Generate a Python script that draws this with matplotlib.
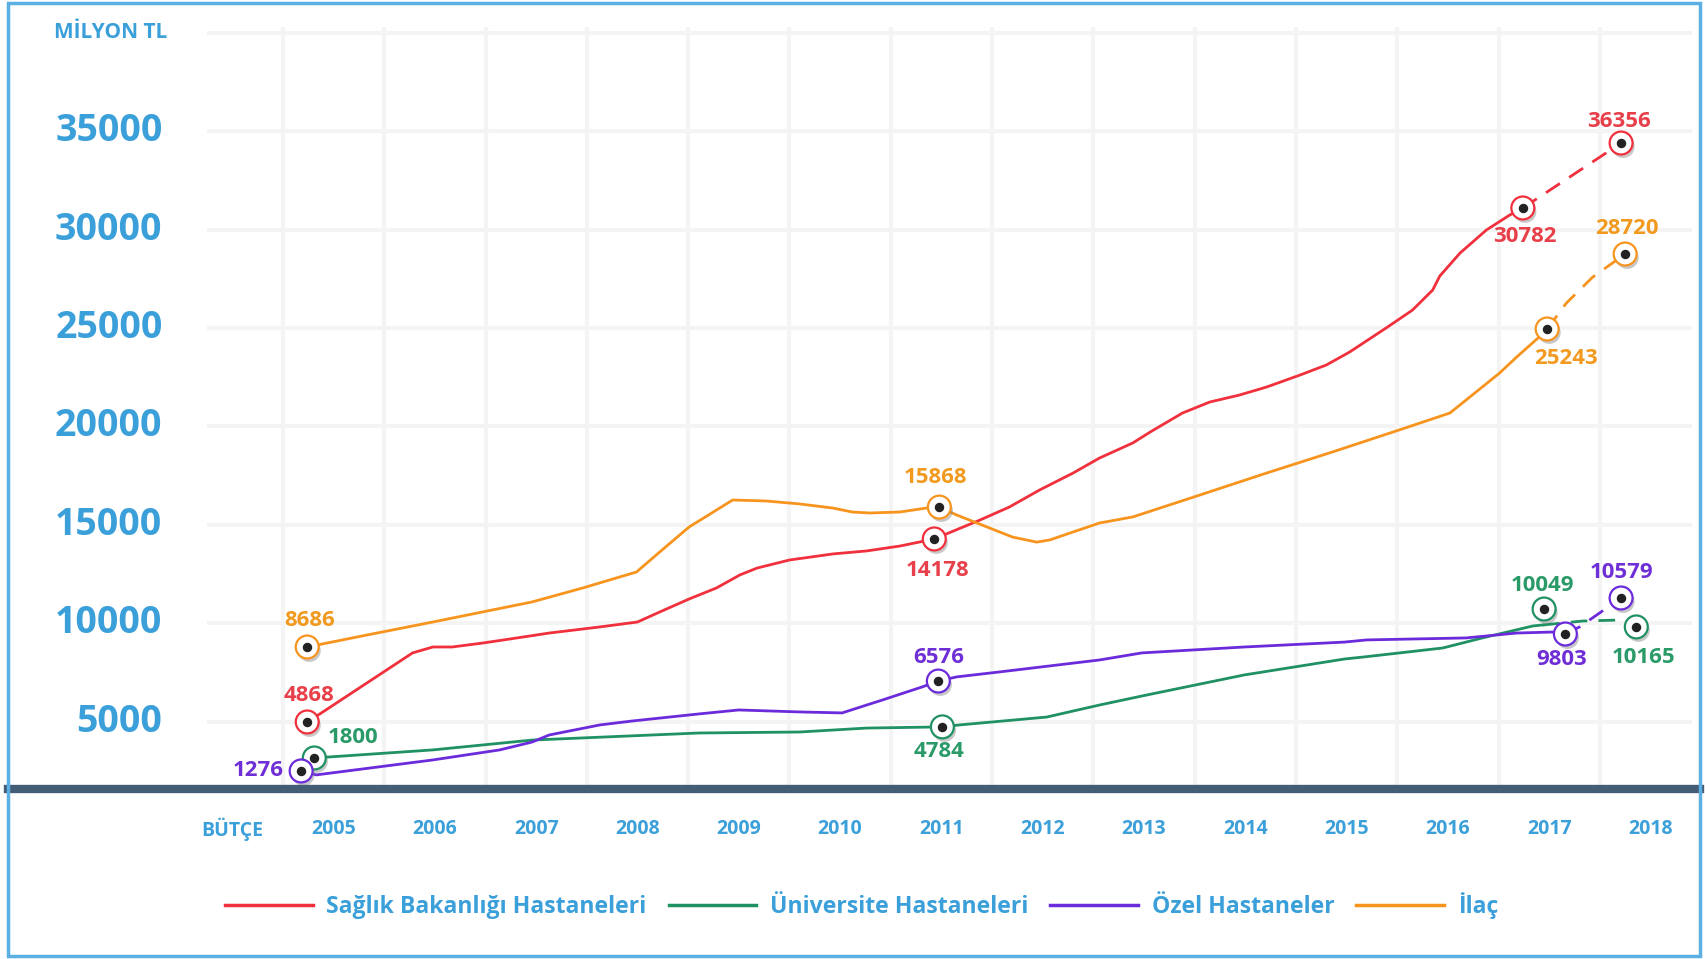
import matplotlib.pyplot as plt
import matplotlib.patheffects as pe
from matplotlib.lines import Line2D
from matplotlib.patches import Rectangle

# --- data ---
red_x = [2004.74, 2004.88, 2005.42, 2005.78, 2005.98, 2006.17, 2006.47, 2006.81, 2007.13, 2007.63,
         2008.00, 2008.22, 2008.51, 2008.78, 2009.01, 2009.18, 2009.50, 2009.93, 2010.26, 2010.59,
         2010.93, 2011.38, 2011.67, 2011.97, 2012.30, 2012.56, 2012.89, 2013.06, 2013.38, 2013.65,
         2013.94, 2014.21, 2014.54, 2014.80, 2015.03, 2015.39, 2015.65, 2015.85, 2015.92, 2016.12,
         2016.38, 2016.61, 2016.74]
red_y = [4980, 5440, 7270, 8490, 8790, 8790, 8990, 9250, 9500, 9810,
         10060, 10570, 11230, 11790, 12450, 12800, 13210, 13520, 13670, 13920,
         14280, 15240, 15900, 16770, 17630, 18390, 19160, 19710, 20680, 21240,
         21590, 22000, 22610, 23120, 23780, 25000, 25910, 26930, 27640, 28810,
         29980, 30740, 31100]
red_dash_x = [2016.74, 2017.71]
red_dash_y = [31100, 34400]
red_mx = [2004.74, 2010.93, 2016.74, 2017.71]
red_my = [4980, 14280, 31100, 34400]
red_labels = ["4868", "14178", "30782", "36356"]

orange_x = [2004.74, 2005.33, 2005.98, 2006.47, 2006.96, 2007.46, 2007.99, 2008.22, 2008.51, 2008.78,
            2008.94, 2009.27, 2009.60, 2009.93, 2010.12, 2010.29, 2010.59, 2010.85, 2010.98, 2011.15,
            2011.45, 2011.70, 2011.94, 2012.07, 2012.56, 2012.89, 2013.55, 2014.21, 2014.86, 2015.52,
            2016.02, 2016.24, 2016.51, 2016.68, 2016.89, 2016.98]
orange_y = [8790, 9400, 10060, 10570, 11080, 11790, 12600, 13620, 14890, 15750,
            16260, 16210, 16060, 15850, 15650, 15600, 15650, 15850, 15900, 15500,
            14890, 14380, 14120, 14230, 15090, 15400, 16510, 17630, 18700, 19820,
            20680, 21590, 22710, 23530, 24490, 24950]
orange_dash_x = [2016.98, 2017.17, 2017.43, 2017.75]
orange_dash_y = [24950, 26270, 27590, 28760]
orange_mx = [2004.74, 2010.98, 2016.98, 2017.75]
orange_my = [8790, 15900, 24950, 28760]
orange_labels = ["8686", "15868", "25243", "28720"]

green_x = [2004.81, 2005.98, 2006.96, 2008.61, 2009.60, 2010.26, 2011.01, 2011.18, 2012.04, 2012.56,
           2012.98, 2013.99, 2014.98, 2015.20, 2015.95, 2016.34, 2016.84, 2016.94]
green_y = [3150, 3560, 4060, 4420, 4470, 4670, 4730, 4830, 5230, 5840,
           6300, 7370, 8180, 8300, 8740, 9250, 9860, 9910]
green_dash_x = [2016.94, 2017.33, 2017.69, 2017.86]
green_dash_y = [9910, 10110, 10160, 9810]
green_mx = [2004.81, 2011.01, 2016.95, 2017.86]
green_my = [3150, 4730, 10720, 9810]
green_labels = ["1800", "4784", "10049", "10165"]

purple_x = [2004.68, 2004.83, 2005.98, 2006.64, 2006.96, 2007.13, 2007.63, 2007.95, 2008.61, 2009.00,
            2009.60, 2010.02, 2010.42, 2010.81, 2010.97, 2011.15, 2011.57, 2012.56, 2012.98, 2013.99,
            2014.98, 2015.20, 2016.18, 2016.68, 2017.03, 2017.16]
purple_y = [2490, 2290, 3050, 3560, 3960, 4320, 4830, 5030, 5390, 5590,
            5490, 5440, 6100, 6760, 7060, 7270, 7520, 8130, 8490, 8790,
            9040, 9150, 9250, 9500, 9550, 9450]
purple_dash_x = [2017.16, 2017.30, 2017.71]
purple_dash_y = [9450, 9810, 11280]
purple_mx = [2004.68, 2010.97, 2017.16, 2017.71]
purple_my = [2490, 7060, 9450, 11280]
purple_labels = ["1276", "6576", "9803", "10579"]

years = list(range(2004, 2019))
year_labels = ["BÜTÇE"] + [str(y) for y in range(2005, 2019)]
y_ticks = [5000, 10000, 15000, 20000, 25000, 30000, 35000, 40000]
y_tick_labels = ["5000", "10000", "15000", "20000", "25000", "30000", "35000", ""]
legend_names = ["Sağlık Bakanlığı Hastaneleri", "Üniversite Hastaneleri", "Özel Hastaneler", "İlaç"]

# --- style ---
BLUE = "#3BA0DA"
RED = "#F0303C"
GREEN = "#1F9163"
PURPLE = "#6C2BDB"
ORANGE = "#F7941E"
plt.rcParams['font.family'] = ['Open Sans', 'DejaVu Sans']

fig = plt.figure(figsize=(17.06, 9.59), dpi=100)
ax = fig.add_axes([0.1213, 0.1773, 0.8705, 0.7946])

ax.set_xlim(2003.75, 2018.41)
ax.set_ylim(1575, 40300)

# grid: horizontal at major y ticks, vertical between years
ax.set_yticks(y_ticks)
ax.set_yticklabels(y_tick_labels, fontsize=27, fontweight="bold", color=BLUE, va="center")
ax.set_xticks(years)
ax.set_xticklabels(year_labels, fontsize=14, fontweight="bold", color=BLUE, va="center")
ax.set_xticks([y + 0.5 for y in range(2004, 2018)], minor=True)
ax.tick_params(axis="y", length=0, pad=32)
ax.tick_params(axis="x", which="both", length=0, pad=29)
ax.grid(axis="y", which="major", color="#F4F4F4", linewidth=3)
ax.grid(axis="x", which="minor", color="#F4F4F4", linewidth=3)
ax.set_axisbelow(True)
for s in ax.spines.values():
    s.set_visible(False)

series = [
    (red_x, red_y, red_dash_x, red_dash_y, red_mx, red_my, red_labels, RED, "#E8404A",
     [(2, 26), (3, -32), (2, -29), (-2, 22)]),
    (orange_x, orange_y, orange_dash_x, orange_dash_y, orange_mx, orange_my, orange_labels, ORANGE, "#F29A1F",
     [(2, 26), (-4, 30), (19, -29), (2, 26)]),
    (green_x, green_y, green_dash_x, green_dash_y, green_mx, green_my, green_labels, GREEN, "#2A9A68",
     [(39, 20), (-3, -25), (-2, 24), (7, -31)]),
    (purple_x, purple_y, purple_dash_x, purple_dash_y, purple_mx, purple_my, purple_labels, PURPLE, "#6F2FD6",
     [(-43, 0), (0, 24), (-4, -25), (0, 25)]),
]

shadow = [pe.SimplePatchShadow(offset=(1.5, -2.5), shadow_rgbFace="#777777", alpha=0.4), pe.Normal()]

for (xs, ys, dx, dy, mx, my, labels, col, tcol, offs) in series:
    ax.plot(xs, ys, color=col, linewidth=2, zorder=3, solid_joinstyle="round")
    ax.plot(dx, dy, color=col, linewidth=2, zorder=3, dashes=(6, 4))
    # marker: white disc with coloured ring and dark centre
    ax.plot(mx, my, linestyle="none", marker="o", markersize=16.5, markerfacecolor="white",
            markeredgecolor=col, markeredgewidth=1.6, zorder=5, path_effects=shadow)
    ax.plot(mx, my, linestyle="none", marker="o", markersize=5.8, color="#222222", zorder=6)
    for i in range(len(mx)):
        ax.annotate(labels[i], (mx[i], my[i]), xytext=offs[i], textcoords="offset pixels",
                    ha="center", va="center", fontsize=16, fontweight="bold", color=tcol, zorder=7)

# thick dark baseline across the full frame
fig.add_artist(Line2D([8 / 1706, 1700 / 1706], [0.1773, 0.1773], transform=fig.transFigure,
                      color="#445D76", linewidth=6, zorder=4))

# unit label
fig.text(54 / 1706, 1 - 33 / 959, "MİLYON TL", fontsize=15, fontweight="bold", color=BLUE,
         ha="left", va="center")

# legend
handles = [Line2D([], [], color=c, linewidth=2.5) for c in [RED, GREEN, PURPLE, ORANGE]]
leg = fig.legend(handles, legend_names, loc="center", bbox_to_anchor=(0.505, 1 - 906 / 959),
                 ncol=4, frameon=False, handlelength=3.8, handletextpad=0.6, columnspacing=0.95,
                 prop={"size": 16.6, "weight": "bold"})
for t in leg.get_texts():
    t.set_color(BLUE)

# light blue frame around the whole picture
fig.add_artist(Rectangle((8 / 1706, 3 / 959), 1692 / 1706, 953 / 959, transform=fig.transFigure,
                         fill=False, edgecolor="#5AB0E2", linewidth=2.5, zorder=10))

fig.savefig("out.png", dpi=100)
